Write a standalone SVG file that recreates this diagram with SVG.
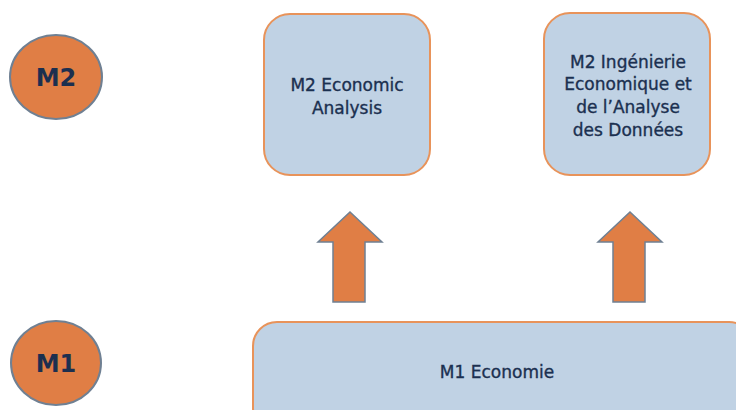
<svg xmlns="http://www.w3.org/2000/svg" width="736" height="410" viewBox="0 0 736 410">
<style>
.circ{fill:#E07E45;stroke:#6F8093;stroke-width:2}
.box{fill:#C0D2E4;stroke:#E8935A;stroke-width:2}
.lvl{font-family:"DejaVu Sans",sans-serif;font-weight:bold;font-size:24px;fill:#1C2F4F;text-anchor:middle}
.lbl{font-family:"DejaVu Sans",sans-serif;font-size:17px;fill:#1B3050;stroke:#1B3050;stroke-width:0.35;text-anchor:middle}
.arrow{fill:#E07E45;stroke:#6F8093;stroke-width:1.5}
</style>
<rect width="736" height="410" fill="#FFFFFF"/>
<g id="m2-level">
<ellipse class="circ" cx="56" cy="77" rx="46" ry="42"/>
<text class="lvl" x="56" y="86">M2</text>
</g>
<g id="m1-level">
<ellipse class="circ" cx="56" cy="363" rx="45" ry="42"/>
<text class="lvl" x="56" y="372">M1</text>
</g>
<g id="m2-economic-analysis">
<rect class="box" x="264" y="14" width="166" height="161" rx="26"/>
<text class="lbl" x="347" y="91">M2 Economic</text>
<text class="lbl" x="347" y="114">Analysis</text>
</g>
<g id="m2-ingenierie">
<rect class="box" x="544" y="13" width="166" height="162" rx="26"/>
<text class="lbl" x="628" y="68">M2 Ingénierie</text>
<text class="lbl" x="628" y="90">Economique et</text>
<text class="lbl" x="628" y="113">de l’Analyse</text>
<text class="lbl" x="628" y="136">des Données</text>
</g>
<g id="m1-economie">
<rect class="box" x="253" y="322" width="500" height="110" rx="24"/>
<text class="lbl" x="497" y="378">M1 Economie</text>
</g>
<g id="connectors">
<polygon class="arrow" points="350,212 382,242 365,242 365,302 333,302 333,242 318,242"/>
<polygon class="arrow" points="630,212 662,242 645,242 645,302 613,302 613,242 598,242"/>
</g>
</svg>
